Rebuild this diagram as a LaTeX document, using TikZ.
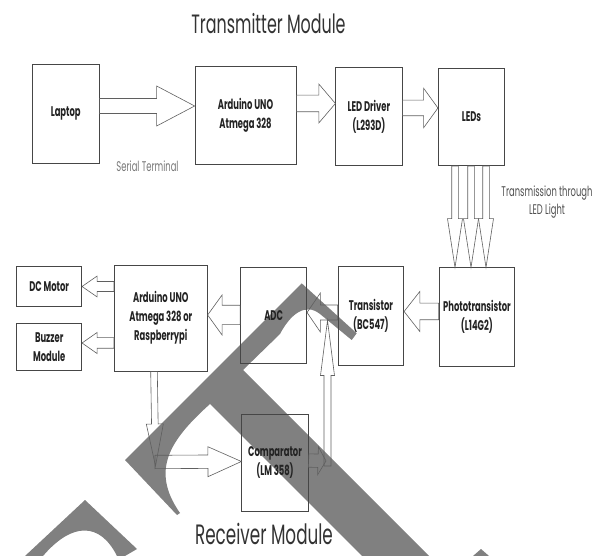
\documentclass[tikz,border=0pt]{standalone}
\usepackage{fontspec}
\setmainfont[FakeStretch=0.6]{Poppins}
\usetikzlibrary{calc,positioning}
\definecolor{boxline}{RGB}{70,70,70}
\definecolor{arrowline}{RGB}{95,95,95}
\definecolor{labeltext}{RGB}{35,35,35}
\definecolor{captiontext}{RGB}{120,120,120}
\definecolor{captiondark}{RGB}{80,80,80}
\definecolor{wmarkgray}{RGB}{128,128,128}

% hollow block arrow: from, to, shaft half width, head half width, head length
\newcommand{\hollowarrow}[5]{%
  \path (#2) coordinate (ha-tip) ($(#2)!#5!(#1)$) coordinate (ha-base);
  \draw[hollow] ($(#1)!#3!90:(ha-base)$) -- ($(ha-base)!#3!-90:(#1)$)
    -- ($(ha-base)!#4!-90:(#1)$) -- (ha-tip) -- ($(ha-base)!#4!90:(#1)$)
    -- ($(ha-base)!#3!90:(#1)$) -- ($(#1)!#3!-90:(ha-base)$) -- cycle;}

\begin{document}
\begin{tikzpicture}[x=1pt, y=-1pt,
  block/.style={draw=boxline, line width=0.7pt, inner sep=0pt, align=center,
    text=labeltext, font=\bfseries\fontsize{14}{19}\selectfont},
  hollow/.style={draw=arrowline, line width=0.6pt},
  caption/.style={text=captiontext, align=center, font=\fontsize{14}{17.7}\selectfont},
  heading/.style={text=black!80, inner sep=0pt, font=\fontsize{26.5}{30}\selectfont},
  wmark/.style={fill=wmarkgray, draw=none},
]
  \useasboundingbox (0,0) rectangle (606,556);

  % watermark shapes
  \fill[wmark] (125,460) -- (301.7,283.3) -- (356.7,333.3) -- (351.7,340)
    -- (320,314) .. controls (305,302) and (290,315) .. (280,334)
    -- (243,370) -- (429,556) -- (362,556) -- (210,404)
    .. controls (170,440) and (150,470) .. (180,513) -- (177,515) -- cycle;
  \fill[wmark] (25,556) -- (85,500) -- (137,549) -- (125,556) -- (117,556)
    .. controls (100,522) and (72,522) .. (43,556) -- cycle;
  \fill[wmark] (473,556) -- (481,549) -- (489,556) -- cycle;

  % Transmitter module
  \node[heading] (txtitle) at (268.5,24) {Transmitter Module};
  \node[block, minimum width=66.7pt, minimum height=99.3pt] (laptop) at (65.7,113.7) {Laptop};
  \node[block, minimum width=101pt, minimum height=98.3pt] (ard) at (245.5,115.2) {Arduino UNO\\Atmega 328};
  \node[block, minimum width=66.3pt, minimum height=98pt] (drv) at (368.9,116.7) {LED Driver\\(L293D)};
  \node[block, minimum width=66.4pt, minimum height=97.4pt] (leds) at (471.5,117) {LEDs};

  \coordinate (tx1a) at (laptop.east |- 0,106);
  \coordinate (tx1b) at (ard.west |- 0,106);
  \hollowarrow{tx1a}{tx1b}{7.5pt}{20pt}{38pt}
  \coordinate (tx2a) at (ard.east |- 0,103.5);
  \coordinate (tx2b) at (drv.west |- 0,103.5);
  \hollowarrow{tx2a}{tx2b}{8.3pt}{19.5pt}{16.6pt}
  \coordinate (tx3a) at (drv.east |- 0,108);
  \coordinate (tx3b) at (leds.west |- 0,108);
  \hollowarrow{tx3a}{tx3b}{7.8pt}{19.7pt}{14.3pt}

  \node[caption] (serial) at (147.5,166.7) {Serial Terminal};
  \node[caption, text=captiondark] (light) at (547,202) {Transmission through\\LED Light};

  % Receiver module
  \node[block, minimum width=75.7pt, minimum height=98.3pt] (photo) at (476.9,316.9) {Phototransistor\\(L14G2)};
  \node[block, minimum width=65.7pt, minimum height=98.6pt] (trans) at (370.9,316) {Transistor\\(BC547)};
  \node[block, minimum width=66.2pt, minimum height=96.3pt] (adc) at (273.6,315.2) {ADC};
  \node[block, minimum width=93pt, minimum height=105.7pt] (ard2) at (160.8,318.2) {Arduino UNO\\Atmega 328 or\\Raspberrypi};
  \node[block, minimum width=65pt, minimum height=40.7pt] (dcm) at (49.2,286.4) {DC Motor};
  \node[block, minimum width=65pt, minimum height=46.7pt] (buzz) at (49.2,346.7) {Buzzer\\Module};
  \node[block, minimum width=66.6pt, minimum height=97pt] (comp) at (275,462.5) {Comparator\\(LM 358)};
  \node[heading, font=\fontsize{28}{30}\selectfont] (rxtitle) at (264,534) {Receiver Module};

  % light from the LEDs
  \foreach \px [count=\i] in {455,471,486} {
    \coordinate (ray\i-a) at (\px,0 |- leds.south);
    \coordinate (ray\i-b) at (\px,0 |- photo.north);
    \hollowarrow{ray\i-a}{ray\i-b}{3.3pt}{7.5pt}{48.7pt}
  }

  \coordinate (rx1a) at (photo.west |- 0,311.5);
  \coordinate (rx1b) at (trans.east |- 0,311.5);
  \hollowarrow{rx1a}{rx1b}{8.3pt}{20pt}{15.7pt}
  \coordinate (rx2a) at (trans.west |- 0,312.5);
  \coordinate (rx2b) at (adc.east |- 0,312.5);
  \hollowarrow{rx2a}{rx2b}{7.5pt}{19.5pt}{13.3pt}
  \coordinate (rx3a) at (adc.west |- 0,315);
  \coordinate (rx3b) at (ard2.east |- 0,315);
  \hollowarrow{rx3a}{rx3b}{9.7pt}{20pt}{14.4pt}
  \coordinate (rx4a) at (ard2.west |- 0,286.5);
  \coordinate (rx4b) at (dcm.east |- 0,286.5);
  \hollowarrow{rx4a}{rx4b}{5pt}{10.4pt}{15pt}
  \coordinate (rx5a) at (ard2.west |- 0,343);
  \coordinate (rx5b) at (buzz.east |- 0,343);
  \hollowarrow{rx5a}{rx5b}{5.3pt}{10.5pt}{15pt}

  % comparator loop
  \coordinate (rx6a) at (154,0 |- ard2.south);
  \coordinate (split) at (155.5,466);
  \hollowarrow{rx6a}{split}{3.3pt}{8.5pt}{42pt}
  \coordinate (rx7a) at (155,462);
  \coordinate (rx7b) at (comp.west |- 0,461.5);
  \hollowarrow{rx7a}{rx7b}{6.7pt}{15pt}{33.4pt}
  \coordinate (rx8a) at (comp.east |- 0,460.5);
  \coordinate (feed) at (326,461);
  \hollowarrow{rx8a}{feed}{6.7pt}{14pt}{8pt}
  \coordinate (feedup) at (327.5,466);
  \coordinate (rx9b) at (327.5,320.5);
  \hollowarrow{feedup}{rx9b}{3.5pt}{7pt}{55pt}
\end{tikzpicture}
\end{document}
